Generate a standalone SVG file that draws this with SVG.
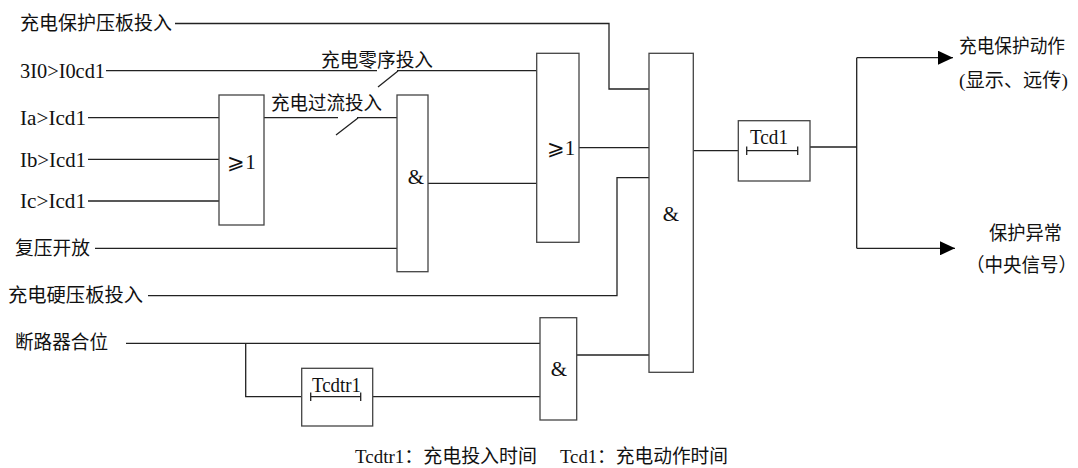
<svg xmlns="http://www.w3.org/2000/svg" width="1078" height="468" viewBox="0 0 1078 468">
<style>
text{font-family:"Liberation Serif","Noto Sans CJK SC",serif;fill:#111}
.cn{font-size:19px}
.lt{font-size:21px}
.g{font-size:21px;text-anchor:middle}
.box{fill:#fff;stroke:#444;stroke-width:1.3}
.w{fill:none;stroke:#222;stroke-width:1.3}
</style>
<defs>
<marker id="arr" markerUnits="userSpaceOnUse" markerWidth="16" markerHeight="14" refX="15" refY="7" orient="auto">
<path d="M0,0 L15,7 L0,14 Z" fill="#000"/>
</marker>
</defs>
<g id="connectors">
<path class="w" d="M175,23.5 H609 V89 H649"/>
<path class="w" d="M106,70.7 H377 M378,87 L398,71 M397,70.7 H537"/>
<path class="w" d="M88,117.7 H219 M88,159.3 H219 M88,201 H219"/>
<path class="w" d="M264,117.7 H338 M336,135 L358,118 M357,117.7 H397"/>
<path class="w" d="M95,248.3 H397"/>
<path class="w" d="M428,183.3 H537"/>
<path class="w" d="M579,147.7 H649"/>
<path class="w" d="M148,295.7 H617 V177.7 H649"/>
<path class="w" d="M126,343.3 H540 M245.7,343.3 V396.7 H301.7"/>
<path class="w" d="M372.7,396.7 H540"/>
<path class="w" d="M576.7,355 H649"/>
<path class="w" d="M693.3,150.7 H738.3"/>
<path class="w" d="M810,147 H856.7 M856.7,57.7 V248.3"/>
<path class="w" d="M856.7,57.7 H953" marker-end="url(#arr)"/>
<path class="w" d="M856.7,248.3 H955" marker-end="url(#arr)"/>
</g>
<g id="labels">
<text class="cn" x="20" y="30" textLength="152" lengthAdjust="spacingAndGlyphs">充电保护压板投入</text>
<text class="lt" x="20" y="78" textLength="85" lengthAdjust="spacingAndGlyphs">3I0&gt;I0cd1</text>
<text class="cn" x="321" y="66.5" textLength="112" lengthAdjust="spacingAndGlyphs">充电零序投入</text>
<text class="cn" x="271" y="110" textLength="111" lengthAdjust="spacingAndGlyphs">充电过流投入</text>
<text class="lt" x="20" y="125" textLength="66" lengthAdjust="spacingAndGlyphs">Ia&gt;Icd1</text>
<text class="lt" x="20" y="166.5" textLength="66" lengthAdjust="spacingAndGlyphs">Ib&gt;Icd1</text>
<text class="lt" x="20" y="208" textLength="66" lengthAdjust="spacingAndGlyphs">Ic&gt;Icd1</text>
<text class="cn" x="15" y="255" textLength="75" lengthAdjust="spacingAndGlyphs">复压开放</text>
<text class="cn" x="8" y="302" textLength="135" lengthAdjust="spacingAndGlyphs">充电硬压板投入</text>
<text class="cn" x="15" y="348.5" textLength="93" lengthAdjust="spacingAndGlyphs">断路器合位</text>
<text class="cn" x="959" y="53" textLength="106" lengthAdjust="spacingAndGlyphs">充电保护动作</text>
<text class="cn" x="959" y="87" textLength="109" lengthAdjust="spacingAndGlyphs">(显示、远传)</text>
<text class="cn" x="989" y="240" textLength="73" lengthAdjust="spacingAndGlyphs">保护异常</text>
<text class="cn" x="966" y="272" textLength="111" lengthAdjust="spacingAndGlyphs">（中央信号）</text>
<text class="cn" x="355" y="463" textLength="182" lengthAdjust="spacingAndGlyphs">Tcdtr1：充电投入时间</text>
<text class="cn" x="560" y="463" textLength="168" lengthAdjust="spacingAndGlyphs">Tcd1：充电动作时间</text>
</g>
<g id="or1">
<rect class="box" x="219" y="95" width="45" height="130"/>
<text class="g" x="241.5" y="169">⩾1</text>
</g>
<g id="and1">
<rect class="box" x="397" y="95" width="31" height="176.7"/>
<text class="g" x="416" y="184">&amp;</text>
</g>
<g id="or2">
<rect class="box" x="536.7" y="53.3" width="42.3" height="189"/>
<text class="g" x="561" y="155">⩾1</text>
</g>
<g id="and2">
<rect class="box" x="649" y="53.3" width="44.3" height="319"/>
<text class="g" x="671" y="221">&amp;</text>
</g>
<g id="and3">
<rect class="box" x="540" y="317.7" width="36.7" height="102.3"/>
<text class="g" x="559" y="376">&amp;</text>
</g>
<g id="tcd1">
<rect class="box" x="738.3" y="120.7" width="71.7" height="60.3"/>
<text class="lt" x="750" y="144" textLength="38" lengthAdjust="spacingAndGlyphs">Tcd1</text>
<path class="w" d="M746.7,150.7 H797.7 M746.7,146.5 V155 M797.7,146.5 V155"/>
</g>
<g id="tcdtr1">
<rect class="box" x="301.7" y="368.3" width="71" height="57.7"/>
<text class="lt" x="312" y="392" textLength="49" lengthAdjust="spacingAndGlyphs">Tcdtr1</text>
<path class="w" d="M310.7,396.7 H360.7 M310.7,392.5 V401 M360.7,392.5 V401"/>
</g>
</svg>
